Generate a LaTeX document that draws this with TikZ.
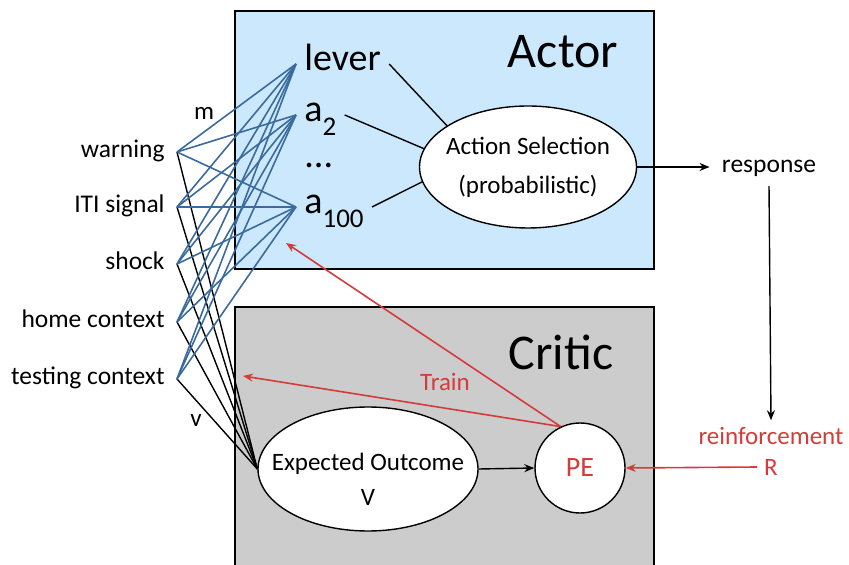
\documentclass[tikz,border=0pt]{standalone}
\usepackage{fontspec}
\setmainfont{Carlito}
\usetikzlibrary{shapes.geometric, arrows.meta}
\definecolor{actorblue}{HTML}{CCE8FC}
\definecolor{criticgray}{HTML}{CCCCCC}
\definecolor{wireblue}{HTML}{3A6B9C}
\definecolor{trainred}{HTML}{D63B3B}
\newcommand{\actsub}[1]{\raisebox{-7pt}{\fontsize{13.5}{14}\selectfont #1}}
\newcommand{\wide}[1]{\makebox[0pt]{#1}}

\begin{document}
\begin{tikzpicture}[x=0.5pt, y=-0.5pt, >={Stealth[length=5pt,width=4pt]},
  every node/.style={font=\fontsize{12.5}{15}\selectfont},
  inp/.style={anchor=east, inner xsep=6pt, font=\fontsize{12.75}{15}\selectfont, text height=9pt, text depth=3pt},
  act/.style={anchor=west, inner xsep=4pt, font=\fontsize{19}{22}\selectfont, text height=9pt, text depth=2pt},
  boxtitle/.style={font=\fontsize{25}{30}\selectfont},
  blob/.style={draw, fill=white, line width=0.7pt, ellipse, align=center},
  wire/.style={wireblue, line width=0.8pt},
  vwire/.style={black, line width=0.7pt}]
  \useasboundingbox (0,0) rectangle (849,565);
  \clip (0,0) rectangle (849,565);
  % Actor og Critic
  \draw[fill=actorblue, line width=0.8pt] (235,11) rectangle (654,269);
  \draw[fill=criticgray, line width=0.8pt] (235,307) rectangle (654,580);
  \node[boxtitle] (actor) at (563,52) {Actor};
  \node[boxtitle] (critic) at (561,352) {Critic};
  % Stimuli
  \node[inp] (warning) at (177,152) {warning};
  \node[inp] (iti) at (177,207) {ITI signal};
  \node[inp] (shock) at (177,264) {shock};
  \node[inp] (home) at (177,322) {home context};
  \node[inp] (testing) at (177,379) {testing context};
  \node (m) at (204,113) {m};
  \node (v) at (196,421) {v};
  % Handlinger
  \node[act] (lever) at (296,64) {lever};
  \node[act] (a2) at (296,115) {a\actsub{2}};
  \node[act] (dots) at (296,161) {...};
  \node[act] (a100) at (296,207) {a\actsub{100}};
  \node[blob, minimum width=108.5pt, minimum height=61pt,
    font=\fontsize{12.5}{19.5}\selectfont] (sel) at (528,167)
    {\wide{Action Selection}\\\wide{(probabilistic)}};
  \node[inp, anchor=center] (response) at (769,167) {response};
  % Critic-delen
  \node[blob, minimum width=110pt, minimum height=62pt,
    font=\fontsize{12.5}{17.5}\selectfont] (eo) at (368,469)
    {\rule{0pt}{19pt}\wide{Expected Outcome}\\V};
  \node[blob, circle, minimum size=45pt, text=trainred,
    font=\fontsize{14}{16}\selectfont] (pe) at (580,468) {PE};
  \node[text=trainred] (reinf) at (771,436) {reinforcement};
  \node[text=trainred] (rlab) at (771,467) {R};
  \node[text=trainred] (train) at (445,382) {Train};
  \coordinate (trainv) at (243,376);
  \coordinate (traina) at (286,243);
  % Vekter m og v
  \foreach \src in {warning,iti,shock,home,testing} {
    \draw[vwire] (\src.east) -- (eo.west);
    \foreach \dst in {lever,a2,a100}
      \draw[wire] (\src.east) -- (\dst.west);
  }
  \draw[vwire] (lever.east) -- (sel.153);
  \draw[vwire] (a2.east) -- (sel.170);
  \draw[vwire] (a100.east) -- (sel.188);
  % Piler
  \draw[->, vwire] (sel.east) -- (sel.east -| response.west);
  \draw[->, vwire] (response.south) -- (reinf.north);
  \draw[->, vwire] (eo.east) -- (pe.west);
  \draw[->, trainred, line width=0.8pt] (rlab.west) -- (pe.east);
  \draw[->, trainred, line width=0.8pt] (pe.115) -- (trainv);
  \draw[->, trainred, line width=0.8pt] (pe.115) -- (traina);
\end{tikzpicture}
\end{document}
